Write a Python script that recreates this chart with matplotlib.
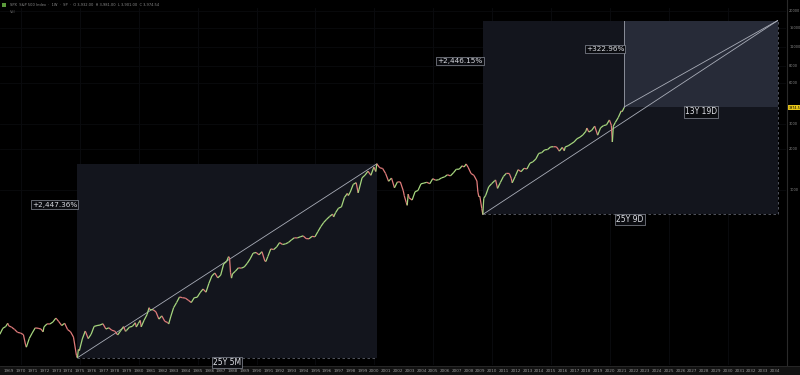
import matplotlib.pyplot as plt
import matplotlib.transforms as mtransforms
from matplotlib.collections import LineCollection
from matplotlib.patches import Rectangle

# S&P 500, roughly quarterly closes plus the main turning points
dates = [
    "1968-03", "1968-06", "1968-09", "1968-11", "1968-12",
    "1969-03", "1969-06", "1969-09", "1969-12",
    "1970-03", "1970-05", "1970-06", "1970-09", "1970-12",
    "1971-03", "1971-06", "1971-09", "1971-11", "1971-12",
    "1972-03", "1972-06", "1972-09", "1972-12",
    "1973-01", "1973-03", "1973-06", "1973-09", "1973-12",
    "1974-03", "1974-06", "1974-09", "1974-10", "1974-11", "1974-12",
    "1975-03", "1975-06", "1975-09", "1975-12",
    "1976-03", "1976-06", "1976-09", "1976-12",
    "1977-03", "1977-06", "1977-09", "1977-12",
    "1978-03", "1978-06", "1978-09", "1978-11", "1978-12",
    "1979-03", "1979-06", "1979-09", "1979-10", "1979-12",
    "1980-02", "1980-03", "1980-06", "1980-09", "1980-11", "1980-12",
    "1981-03", "1981-06", "1981-09", "1981-12",
    "1982-03", "1982-06", "1982-07", "1982-09", "1982-12",
    "1983-03", "1983-06", "1983-09", "1983-12",
    "1984-03", "1984-06", "1984-09", "1984-12",
    "1985-03", "1985-06", "1985-09", "1985-12",
    "1986-03", "1986-06", "1986-09", "1986-12",
    "1987-03", "1987-06", "1987-08", "1987-09", "1987-10", "1987-11", "1987-12",
    "1988-03", "1988-06", "1988-09", "1988-12",
    "1989-03", "1989-06", "1989-09", "1989-12",
    "1990-03", "1990-06", "1990-09", "1990-10", "1990-12",
    "1991-03", "1991-06", "1991-09", "1991-12",
    "1992-03", "1992-06", "1992-09", "1992-12",
    "1993-03", "1993-06", "1993-09", "1993-12",
    "1994-03", "1994-06", "1994-09", "1994-12",
    "1995-03", "1995-06", "1995-09", "1995-12",
    "1996-03", "1996-06", "1996-07", "1996-09", "1996-12",
    "1997-03", "1997-06", "1997-09", "1997-10", "1997-12",
    "1998-03", "1998-06", "1998-08", "1998-09", "1998-12",
    "1999-03", "1999-06", "1999-09", "1999-12",
    "2000-02", "2000-03", "2000-06", "2000-09", "2000-12",
    "2001-03", "2001-06", "2001-09", "2001-12",
    "2002-03", "2002-06", "2002-07", "2002-09", "2002-10", "2002-11", "2002-12",
    "2003-03", "2003-06", "2003-09", "2003-12",
    "2004-03", "2004-06", "2004-09", "2004-12",
    "2005-03", "2005-06", "2005-09", "2005-12",
    "2006-03", "2006-06", "2006-09", "2006-12",
    "2007-03", "2007-06", "2007-08", "2007-10", "2007-12",
    "2008-03", "2008-06", "2008-09", "2008-10", "2008-11", "2008-12",
    "2009-02", "2009-03", "2009-04", "2009-06", "2009-09", "2009-12",
    "2010-03", "2010-04", "2010-06", "2010-09", "2010-12",
    "2011-03", "2011-06", "2011-08", "2011-09", "2011-12",
    "2012-03", "2012-06", "2012-09", "2012-12",
    "2013-03", "2013-06", "2013-09", "2013-12",
    "2014-03", "2014-06", "2014-09", "2014-12",
    "2015-03", "2015-06", "2015-08", "2015-09", "2015-12",
    "2016-02", "2016-03", "2016-06", "2016-09", "2016-12",
    "2017-03", "2017-06", "2017-09", "2017-12",
    "2018-01", "2018-03", "2018-06", "2018-09", "2018-12",
    "2019-03", "2019-06", "2019-09", "2019-12",
    "2020-02", "2020-03", "2020-04", "2020-06", "2020-09", "2020-12",
    "2021-01", "2021-03",
]
closes = [
    90.2, 99.6, 102.7, 108.4, 103.9,
    101.5, 97.7, 93.1, 92.1,
    89.6, 76.6, 72.7, 84.2, 92.2,
    100.3, 99.7, 98.3, 93.9, 102.1,
    107.2, 107.1, 110.6, 118.1,
    116.0, 111.5, 104.3, 108.4, 97.6,
    94.0, 86.0, 63.5, 60.96, 69.97, 68.6,
    83.4, 95.2, 83.9, 90.2,
    102.8, 104.3, 105.2, 107.5,
    98.4, 100.5, 96.5, 95.1,
    89.2, 95.5, 102.5, 94.7, 96.1,
    101.6, 102.9, 109.3, 101.8, 107.9,
    113.7, 102.1, 114.2, 125.5, 140.5, 135.8,
    136.0, 131.2, 116.2, 122.6,
    112.0, 109.6, 107.1, 120.4, 140.6,
    153.0, 168.1, 166.1, 164.9,
    159.2, 153.2, 166.1, 167.2,
    180.7, 191.9, 182.1, 211.3,
    238.9, 250.8, 231.3, 242.2,
    291.7, 304.0, 329.8, 321.8, 251.8, 230.3, 247.1,
    258.9, 273.5, 271.9, 277.7,
    294.9, 318.0, 349.2, 353.4,
    339.9, 358.0, 306.1, 304.0, 330.2,
    375.2, 371.2, 387.9, 417.1,
    403.7, 408.1, 417.8, 435.7,
    451.7, 450.5, 458.9, 466.5,
    445.8, 444.3, 462.7, 459.3,
    500.7, 544.8, 584.4, 615.9,
    645.5, 670.6, 639.9, 687.3, 740.7,
    757.1, 885.1, 947.3, 914.6, 970.4,
    1101.8, 1133.8, 957.3, 1017.0, 1229.2,
    1286.4, 1372.7, 1282.7, 1469.3,
    1366.4, 1552.87, 1454.6, 1436.5, 1320.3,
    1160.3, 1224.4, 1040.9, 1148.1,
    1147.4, 989.8, 911.6, 815.3, 776.8, 936.3, 879.8,
    848.2, 974.5, 996.0, 1111.9,
    1126.2, 1140.8, 1114.6, 1211.9,
    1180.6, 1191.3, 1228.8, 1248.3,
    1294.8, 1270.2, 1335.9, 1418.3,
    1420.9, 1503.4, 1474.0, 1549.4, 1468.4,
    1322.7, 1280.0, 1166.4, 968.8, 896.2, 903.3,
    735.1, 666.79, 872.8, 919.3, 1057.1, 1115.1,
    1169.4, 1186.7, 1030.7, 1141.2, 1257.6,
    1325.8, 1320.6, 1218.9, 1131.4, 1257.6,
    1408.5, 1362.2, 1440.7, 1426.2,
    1569.2, 1606.3, 1681.6, 1848.4,
    1872.3, 1960.2, 1972.3, 2058.9,
    2067.9, 2063.1, 1972.2, 1920.0, 2043.9,
    1932.2, 2059.7, 2098.9, 2168.3, 2238.8,
    2362.7, 2423.4, 2519.4, 2673.6,
    2823.8, 2640.9, 2718.4, 2914.0, 2506.9,
    2834.4, 2941.8, 2976.7, 3230.8,
    2954.2, 2237.4, 2912.4, 3100.3, 3363.0, 3756.1,
    3714.2, 3974.5,
]

# projections
low1_date, low1, high1_date, high1 = "1974-10", 60.96, "2000-03", 1552.87
low2_date, low2 = "2009-03", 666.79
gain2 = 2446.15
span2 = 25 + 9 / 365
gain3 = 322.96

labels_pct = ["+2,447.36%", "+2,446.15%", "+322.96%"]
labels_len = ["25Y 5M", "25Y 9D", "13Y 19D"]

right_ticks = [20000, 15000, 11000, 8000, 6000, 3000, 2000, 1000]
right_tick_txt = ["20000", "15000", "11000", "8000", "6000", "3000", "2000", "1000"]
last_txt = "3974.5"


def to_year(s):
    y, m = s.split("-")
    return int(y) + (int(m) - 0.5) / 12


x = [to_year(d) for d in dates]

fig = plt.figure(figsize=(8, 3.75), dpi=100, facecolor="black")
ax = fig.add_axes([0, 10 / 375, 786 / 800, 357 / 375])
ax.set_facecolor("black")
ax.set_yscale("log")
ax.set_xlim(1968.22, 2034.95)
ax.set_ylim(53.98, 20960)
for s in ax.spines.values():
    s.set_visible(False)
ax.set_xticks([])
ax.set_yticks([])
ax.minorticks_off()

# faint grid
for yr in range(1970, 2035, 5):
    ax.axvline(yr, color="#0b0c10", lw=0.6, zorder=0)
for p in right_ticks:
    ax.axhline(p, color="#0a0b0e", lw=0.6, zorder=0)

# projection boxes
x1a, x1b = to_year(low1_date), to_year(high1_date)
x2a = to_year(low2_date)
x2b = x2a + span2
target = low2 * (1 + gain2 / 100)
x3a = x[-1]
base3 = target / (1 + gain3 / 100)

ax.add_patch(Rectangle((x1a, low1), x1b - x1a, high1 - low1,
                       facecolor="#13151d", edgecolor="none", zorder=1))
ax.add_patch(Rectangle((x2a, low2), x2b - x2a, target - low2,
                       facecolor="#13151d", edgecolor="none", zorder=1))
ax.add_patch(Rectangle((x3a, base3), x2b - x3a, target - base3,
                       facecolor="#272b38", edgecolor="none", zorder=1))

edge = "#5e626c"
ax.plot([x1a, x1b], [low1, low1], color=edge, lw=0.6, ls=(0, (3, 3)), zorder=2)
ax.plot([x2a, x2b], [low2, low2], color=edge, lw=0.6, ls=(0, (3, 3)), zorder=2)
ax.plot([x2b, x2b], [low2, target], color=edge, lw=0.6, ls=(0, (3, 3)), zorder=2)
ax.plot([x3a, x3a], [base3, target], color="#8a8e99", lw=0.7, zorder=2)

diag = "#a9adb8"
ax.plot([x1a, x1b], [low1, high1], color=diag, lw=0.6, zorder=3)
ax.plot([x2a, x2b], [low2, target], color=diag, lw=0.6, zorder=3)
ax.plot([x3a, x2b], [base3, target], color=diag, lw=0.6, zorder=3)

# price line coloured by direction
segs = [[(x[i], closes[i]), (x[i + 1], closes[i + 1])] for i in range(len(x) - 1)]
cols = ["#a6d67e" if closes[i + 1] >= closes[i] else "#e07b7b" for i in range(len(x) - 1)]
ax.add_collection(LineCollection(segs, colors=cols, linewidths=0.9, zorder=4))

# labels
box = dict(boxstyle="square,pad=0.15", facecolor="#0b0c10", edgecolor="#8a8e99", lw=0.5)
for xa, lo, hi, frac, txt in [(x1a, low1, high1, 0.21, labels_pct[0]),
                              (x2a, low2, target, 0.21, labels_pct[1]),
                              (x3a, base3, target, 0.33, labels_pct[2])]:
    yy = hi * (lo / hi) ** frac
    ax.text(xa, yy, txt, color="#d8dae0", fontsize=5.2, ha="right", va="center",
            bbox=box, zorder=6)

for xa, xb, lo, txt in [(x1a, x1b, low1, labels_len[0]),
                        (x2a, x2b, low2, labels_len[1]),
                        (x3a, x2b, base3, labels_len[2])]:
    ax.annotate(txt, xy=((xa + xb) / 2, lo), xytext=(0, -5), textcoords="offset pixels",
                color="#e0e2e8", fontsize=5.5, ha="center", va="center",
                bbox=box, zorder=6)

# right price axis
tr = mtransforms.blended_transform_factory(ax.transAxes, ax.transData)
fig.add_artist(plt.Line2D([787 / 800, 787 / 800], [10 / 375, 1], color="#2a2a2a", lw=0.8))
for p, t in zip(right_ticks, right_tick_txt):
    ax.text(1.004, p, t, transform=tr, color="#8a8a8a", fontsize=2.5,
            ha="left", va="center", clip_on=False)
ax.text(1.003, closes[-1], last_txt, transform=tr, color="black", fontsize=2.4,
        ha="left", va="center", clip_on=False,
        bbox=dict(boxstyle="square,pad=0.25", facecolor="#e8c619", edgecolor="none"))

# bottom date strip
fig.add_artist(Rectangle((0, 0), 1, 9 / 375, transform=fig.transFigure,
                         facecolor="#121212", edgecolor="none", zorder=-1))
fig.add_artist(plt.Line2D([0, 1], [9 / 375, 9 / 375], color="#2a2a2a", lw=0.6, zorder=-1))
trx = mtransforms.blended_transform_factory(ax.transData, fig.transFigure)
for yr in range(1969, 2035):
    fig.text(0, 4.5 / 375, str(yr), transform=trx, color="#9a9a9a", fontsize=3,
             ha="center", va="center")
    fig.texts[-1].set_x(yr)

# header
fig.text(0.012, 1 - 5 / 375, "SPX  S&P 500 Index  ·  1W  ·  SP  ·  O 3,932.00  H 3,981.00  L 3,901.00  C 3,974.54",
         color="#8a8a8a", fontsize=2.6, ha="left", va="center")
fig.add_artist(Rectangle((0.002, 1 - 7 / 375), 0.006, 4 / 375, transform=fig.transFigure,
                         facecolor="#5a9a3a", edgecolor="none"))
fig.text(0.012, 1 - 12 / 375, "Vol", color="#6a6a6a", fontsize=2.6, ha="left", va="center")

fig.savefig("out.png", dpi=100, facecolor="black")
